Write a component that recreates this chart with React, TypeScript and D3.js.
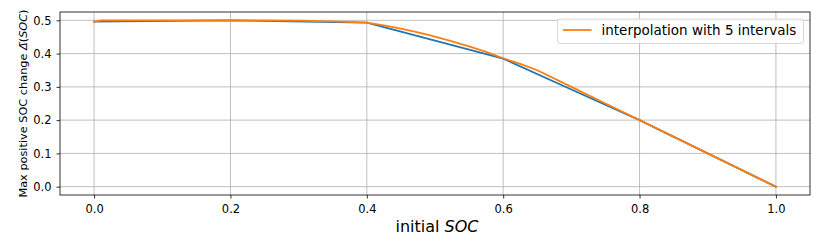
import React, { useEffect, useRef } from 'react';
import * as d3 from 'd3';

// blue: piecewise curve through the grid points
const blueSoc = [0.0, 0.2, 0.4, 0.6, 0.7, 0.8, 1.0];
const blueDelta = [0.496, 0.5, 0.493, 0.385, 0.292, 0.2, 0.0];

// orange: interpolation with 5 intervals
const orangeSoc = [0.0, 0.01, 0.05, 0.1, 0.15, 0.2, 0.25, 0.3, 0.35, 0.4, 0.425, 0.45, 0.475, 0.5, 0.525, 0.55, 0.575, 0.6, 0.625, 0.65, 0.7, 0.75, 0.8, 0.9, 1.0];
const orangeDelta = [0.495, 0.5, 0.5, 0.5, 0.5, 0.5, 0.5, 0.499, 0.497, 0.493, 0.485, 0.475, 0.464, 0.451, 0.437, 0.422, 0.405, 0.386, 0.369, 0.35, 0.3, 0.25, 0.2, 0.1, 0.0];

const xTicks = [0.0, 0.2, 0.4, 0.6, 0.8, 1.0];
const yTicks = [0.0, 0.1, 0.2, 0.3, 0.4, 0.5];
const legendLabel = 'interpolation with 5 intervals';

const W = 830;
const H = 249;
const FONT = '"DejaVu Sans", sans-serif';

export default function App() {
  const ref = useRef<SVGSVGElement>(null);

  useEffect(() => {
    document.body.style.margin = '0';
    if (!ref.current) return;
    const svg = d3.select(ref.current);
    svg.selectAll('*').remove();

    const margin = { top: 12, right: 20, bottom: 54, left: 60 };
    const width = W - margin.left - margin.right;
    const height = H - margin.top - margin.bottom;

    const x = d3.scaleLinear().domain([-0.05, 1.05]).range([0, width]);
    const y = d3.scaleLinear().domain([-0.025, 0.525]).range([height, 0]);

    const g = svg.append('g').attr('transform', `translate(${margin.left},${margin.top})`);

    // grid
    g.append('g')
      .selectAll('line')
      .data(xTicks)
      .enter()
      .append('line')
      .attr('x1', d => x(d)).attr('x2', d => x(d))
      .attr('y1', 0).attr('y2', height)
      .attr('stroke', '#b0b0b0').attr('stroke-width', 0.8);
    g.append('g')
      .selectAll('line')
      .data(yTicks)
      .enter()
      .append('line')
      .attr('y1', d => y(d)).attr('y2', d => y(d))
      .attr('x1', 0).attr('x2', width)
      .attr('stroke', '#b0b0b0').attr('stroke-width', 0.8);

    const line = d3.line<[number, number]>().x(d => x(d[0])).y(d => y(d[1]));
    const blue = blueSoc.map((s, i) => [s, blueDelta[i]] as [number, number]);
    const orange = orangeSoc.map((s, i) => [s, orangeDelta[i]] as [number, number]);

    g.append('path').datum(blue)
      .attr('d', line).attr('fill', 'none')
      .attr('stroke', '#1f77b4').attr('stroke-width', 1.8)
      .attr('stroke-linejoin', 'round').attr('stroke-linecap', 'square');
    g.append('path').datum(orange)
      .attr('d', line).attr('fill', 'none')
      .attr('stroke', '#ff7f0e').attr('stroke-width', 1.8)
      .attr('stroke-linejoin', 'round').attr('stroke-linecap', 'square');

    // axes
    const xAxis = g.append('g')
      .attr('transform', `translate(0,${height})`)
      .call(d3.axisBottom(x).tickValues(xTicks).tickFormat(d3.format('.1f')).tickSizeInner(3.5).tickSizeOuter(0).tickPadding(6));
    const yAxis = g.append('g')
      .call(d3.axisLeft(y).tickValues(yTicks).tickFormat(d3.format('.1f')).tickSizeInner(3.5).tickSizeOuter(0).tickPadding(5));
    [xAxis, yAxis].forEach(a => {
      a.select('.domain').remove();
      a.selectAll('line').attr('stroke', '#000').attr('stroke-width', 0.8);
      a.selectAll('text').attr('font-family', FONT).attr('font-size', 11.5).attr('fill', '#000');
    });

    // spines
    g.append('rect')
      .attr('x', 0).attr('y', 0).attr('width', width).attr('height', height)
      .attr('fill', 'none').attr('stroke', '#000').attr('stroke-width', 0.8);

    // legend
    const lg = g.append('g').attr('transform', `translate(${width - 252.5},7)`);
    lg.append('rect')
      .attr('width', 246).attr('height', 24.5).attr('rx', 2.5)
      .attr('fill', '#fff').attr('fill-opacity', 0.8)
      .attr('stroke', '#cccccc').attr('stroke-width', 0.8);
    lg.append('line')
      .attr('x1', 5.5).attr('x2', 34).attr('y1', 11).attr('y2', 11)
      .attr('stroke', '#ff7f0e').attr('stroke-width', 1.8);
    lg.append('text')
      .attr('x', 44).attr('y', 15.5)
      .attr('font-family', FONT).attr('font-size', 13.5)
      .text(legendLabel);

    // x label
    const xl = svg.append('text')
      .attr('x', 437).attr('y', 232)
      .attr('text-anchor', 'middle')
      .attr('font-family', FONT).attr('font-size', 16);
    xl.append('tspan').text('initial ');
    xl.append('tspan').attr('font-style', 'italic').text('SOC');

    // y label
    const yl = svg.append('text')
      .attr('transform', `translate(27,${margin.top + height / 2}) rotate(-90)`)
      .attr('text-anchor', 'middle')
      .attr('font-family', FONT).attr('font-size', 11.3);
    yl.append('tspan').text('Max positive SOC change ');
    yl.append('tspan').attr('font-style', 'italic').text('\u0394\u0304');
    yl.append('tspan').text('(');
    yl.append('tspan').attr('font-style', 'italic').text('SOC');
    yl.append('tspan').text(')');
  }, []);

  return <svg ref={ref} width={W} height={H} style={{ display: 'block', background: '#fff' }} />;
}
